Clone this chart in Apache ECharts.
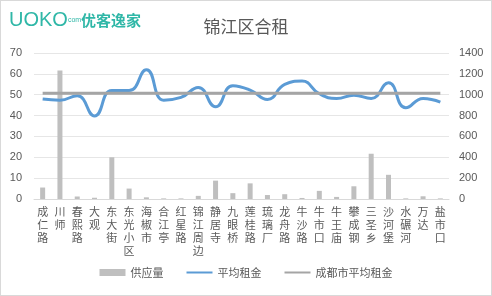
<!DOCTYPE html>
<html><head><meta charset="utf-8">
<script src="https://cdn.jsdelivr.net/npm/echarts@6/dist/echarts.min.js"></script>
<style>
html,body{margin:0;padding:0;background:#fff;}
#c{width:490px;height:294px;border:1px solid #d9d9d9;}
</style></head><body><div id="c"></div>
<script>
const categories = ['成仁路','川师','春熙路','大观','东大街','东光小区','海椒市','合江亭','红星路','锦江周边','静居寺','九眼桥','莲桂路','琉璃厂','龙舟路','牛沙路','牛市口','牛王庙','攀成钢','三圣乡','沙河堡','水碾河','万达','盐市口'];
const supply = [5.5,61.6,1.2,0.6,20,5,0.8,0.3,0.3,1.5,8.8,2.8,7.5,1.9,2.3,0.5,3.9,1,6.1,21.7,11.6,0.3,1.3,0.3];
const avgRent = [958,948,990,797,1040,1040,1239,948,974,1070,884,1087,1045,955,1099,1131,1009,964,996,964,1114,874,964,929];
const cityAvg = 1015;
const leftTicks = {min:0,max:70,interval:10};
const rightTicks = {min:0,max:1400,interval:200};

const chart = echarts.init(document.getElementById('c'));
const txt = '#595959';
chart.setOption({
  animation:false,
  graphic:[{type:'text',left:8,top:9,style:{rich:{
    a:{fontFamily:'Liberation Sans',fontSize:20,fill:'#2fb7a7'},
    b:{fontFamily:'Liberation Sans',fontSize:7,fill:'#2fb7a7'},
    c:{fontFamily:'Noto Sans CJK SC',fontSize:15,fontWeight:'bold',fill:'#2fb7a7'}},
    text:'{a|UOKO}{b|com}{c|优客逸家}'}}],
  title:{text:'锦江区合租',left:'center',top:12,textStyle:{fontSize:17,fontWeight:'normal',color:txt,fontFamily:'Noto Sans CJK SC'}},
  grid:{left:33,right:42,top:52,bottom:96,containLabel:false},
  legend:{bottom:12,left:'center',itemGap:22,itemWidth:26,itemHeight:7,
    textStyle:{color:txt,fontSize:11,fontFamily:'Noto Sans CJK SC'},
    data:[{name:'供应量',icon:'rect'},
      {name:'平均租金',itemStyle:{opacity:0}},
      {name:'成都市平均租金',itemStyle:{opacity:0}}]},
  xAxis:{type:'category',data:categories,
    axisLine:{lineStyle:{color:'#d9d9d9'}},axisTick:{show:false},
    axisLabel:{interval:0,color:txt,fontSize:11,lineHeight:13,margin:6,fontFamily:'Noto Sans CJK SC',
      formatter:v=>v.split('').join('\n')}},
  yAxis:[
    Object.assign({type:'value',position:'left',axisLine:{show:false},axisTick:{show:false},
      axisLabel:{color:txt,fontSize:11,margin:12},splitLine:{lineStyle:{color:'#e6e6e6'}}},leftTicks),
    Object.assign({type:'value',position:'right',axisLine:{show:false},axisTick:{show:false},
      axisLabel:{color:txt,fontSize:11,margin:10,formatter:v=>String(v)},splitLine:{show:false}},rightTicks)
  ],
  series:[
    {name:'供应量',type:'bar',yAxisIndex:0,data:supply,barWidth:5,itemStyle:{color:'#bfbfbf'}},
    {name:'平均租金',type:'line',yAxisIndex:1,data:avgRent,smooth:0.5,symbol:'none',
      lineStyle:{color:'#5b9bd5',width:3},itemStyle:{color:'#5b9bd5'}},
    {name:'成都市平均租金',type:'line',yAxisIndex:1,data:categories.map(()=>cityAvg),symbol:'none',
      lineStyle:{color:'#a5a5a5',width:3},itemStyle:{color:'#a5a5a5'}}
  ]
});
</script></body></html>
